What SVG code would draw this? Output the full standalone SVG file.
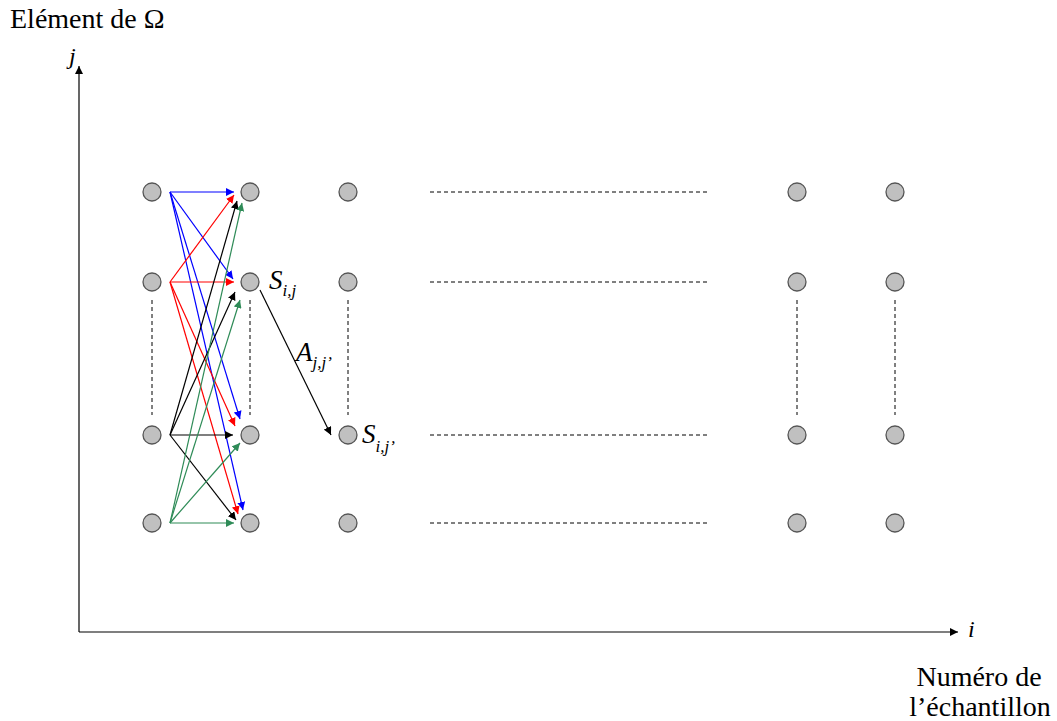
<svg xmlns="http://www.w3.org/2000/svg" width="1057" height="721" viewBox="0 0 1057 721">
<style>
.n{fill:#c0c0c0;stroke:#555;stroke-width:1.3}
.t{font-family:"Liberation Serif",serif;font-size:28px;fill:#000}
.it{font-family:"Liberation Serif",serif;font-style:italic;fill:#000}
.d{stroke:#000;stroke-width:1;stroke-dasharray:4,3;fill:none}
.b{stroke:#0000ff;stroke-width:1.2;fill:none}
.r{stroke:#ff0000;stroke-width:1.2;fill:none}
.k{stroke:#000;stroke-width:1.2;fill:none}
.g{stroke:#2e8b57;stroke-width:1.2;fill:none}
</style>
<defs>
<marker id="mb" viewBox="0 0 10 10" refX="10" refY="5" markerWidth="8" markerHeight="8" markerUnits="userSpaceOnUse" orient="auto"><path d="M0,0L10,5L0,10z" fill="#0000ff"/></marker>
<marker id="mr" viewBox="0 0 10 10" refX="10" refY="5" markerWidth="8" markerHeight="8" markerUnits="userSpaceOnUse" orient="auto"><path d="M0,0L10,5L0,10z" fill="#ff0000"/></marker>
<marker id="mk" viewBox="0 0 10 10" refX="10" refY="5" markerWidth="8" markerHeight="8" markerUnits="userSpaceOnUse" orient="auto"><path d="M0,0L10,5L0,10z" fill="#000"/></marker>
<marker id="mg" viewBox="0 0 10 10" refX="10" refY="5" markerWidth="8" markerHeight="8" markerUnits="userSpaceOnUse" orient="auto"><path d="M0,0L10,5L0,10z" fill="#2e8b57"/></marker>
</defs>
<rect width="1057" height="721" fill="#fff"/>
<g id="axes">
<line x1="79" y1="632" x2="79" y2="66" stroke="#000" stroke-width="1.2" marker-end="url(#mk)"/>
<line x1="79" y1="632" x2="958" y2="632" stroke="#000" stroke-width="1.2" marker-end="url(#mk)"/>
<text class="it" x="69" y="64" font-size="24">j</text>
<text class="it" x="968" y="637" font-size="24">i</text>
<text class="t" x="10" y="28">Elément de Ω</text>
<text class="t" x="979" y="686" text-anchor="middle">Numéro de</text>
<text class="t" x="980" y="716" text-anchor="middle">l’échantillon</text>
</g>
<g id="dashes">
<line class="d" x1="430" y1="192" x2="708" y2="192"/>
<line class="d" x1="430" y1="282" x2="708" y2="282"/>
<line class="d" x1="430" y1="435" x2="708" y2="435"/>
<line class="d" x1="430" y1="523" x2="708" y2="523"/>
<line class="d" x1="152" y1="300" x2="152" y2="415"/>
<line class="d" x1="250" y1="300" x2="250" y2="415"/>
<line class="d" x1="348" y1="300" x2="348" y2="415"/>
<line class="d" x1="797" y1="300" x2="797" y2="415"/>
<line class="d" x1="895" y1="300" x2="895" y2="415"/>
</g>
<g id="connectors">
<line class="b" x1="170" y1="192" x2="234" y2="192" marker-end="url(#mb)"/>
<line class="b" x1="170" y1="192" x2="233" y2="279" marker-end="url(#mb)"/>
<line class="b" x1="170" y1="192" x2="240" y2="419" marker-end="url(#mb)"/>
<line class="b" x1="170" y1="192" x2="243" y2="510" marker-end="url(#mb)"/>
<line class="r" x1="170" y1="282" x2="234" y2="195" marker-end="url(#mr)"/>
<line class="r" x1="170" y1="282" x2="234" y2="282" marker-end="url(#mr)"/>
<line class="r" x1="170" y1="282" x2="235" y2="426" marker-end="url(#mr)"/>
<line class="r" x1="170" y1="282" x2="238" y2="514" marker-end="url(#mr)"/>
<line class="k" x1="170" y1="435" x2="237" y2="201" marker-end="url(#mk)"/>
<line class="k" x1="170" y1="435" x2="235" y2="292" marker-end="url(#mk)"/>
<line class="k" x1="170" y1="435" x2="233" y2="435" marker-end="url(#mk)"/>
<line class="k" x1="170" y1="435" x2="236" y2="520" marker-end="url(#mk)"/>
<line class="g" x1="170" y1="523" x2="242" y2="203" marker-end="url(#mg)"/>
<line class="g" x1="170" y1="523" x2="240" y2="300" marker-end="url(#mg)"/>
<line class="g" x1="170" y1="523" x2="240" y2="443" marker-end="url(#mg)"/>
<line class="g" x1="170" y1="523" x2="234" y2="523" marker-end="url(#mg)"/>
<line class="k" x1="260" y1="290" x2="331" y2="435" marker-end="url(#mk)"/>
</g>
<g id="labels">
<text class="it" x="269" y="289" font-size="27">S<tspan font-size="17" dy="7">i,j</tspan></text>
<text class="it" x="296" y="361" font-size="27">A<tspan font-size="17" dy="7">j,j’</tspan></text>
<text class="it" x="362" y="443" font-size="27">S<tspan font-size="17" dy="9">i,j’</tspan></text>
</g>
<g id="node-c1r1"><circle class="n" cx="152" cy="192" r="9"/></g>
<g id="node-c1r2"><circle class="n" cx="152" cy="282" r="9"/></g>
<g id="node-c1r3"><circle class="n" cx="152" cy="435" r="9"/></g>
<g id="node-c1r4"><circle class="n" cx="152" cy="523" r="9"/></g>
<g id="node-c2r1"><circle class="n" cx="250" cy="192" r="9"/></g>
<g id="node-c2r2"><circle class="n" cx="250" cy="282" r="9"/></g>
<g id="node-c2r3"><circle class="n" cx="250" cy="435" r="9"/></g>
<g id="node-c2r4"><circle class="n" cx="250" cy="523" r="9"/></g>
<g id="node-c3r1"><circle class="n" cx="348" cy="192" r="9"/></g>
<g id="node-c3r2"><circle class="n" cx="348" cy="282" r="9"/></g>
<g id="node-c3r3"><circle class="n" cx="348" cy="435" r="9"/></g>
<g id="node-c3r4"><circle class="n" cx="348" cy="523" r="9"/></g>
<g id="node-c4r1"><circle class="n" cx="797" cy="192" r="9"/></g>
<g id="node-c4r2"><circle class="n" cx="797" cy="282" r="9"/></g>
<g id="node-c4r3"><circle class="n" cx="797" cy="435" r="9"/></g>
<g id="node-c4r4"><circle class="n" cx="797" cy="523" r="9"/></g>
<g id="node-c5r1"><circle class="n" cx="895" cy="192" r="9"/></g>
<g id="node-c5r2"><circle class="n" cx="895" cy="282" r="9"/></g>
<g id="node-c5r3"><circle class="n" cx="895" cy="435" r="9"/></g>
<g id="node-c5r4"><circle class="n" cx="895" cy="523" r="9"/></g>
</svg>
